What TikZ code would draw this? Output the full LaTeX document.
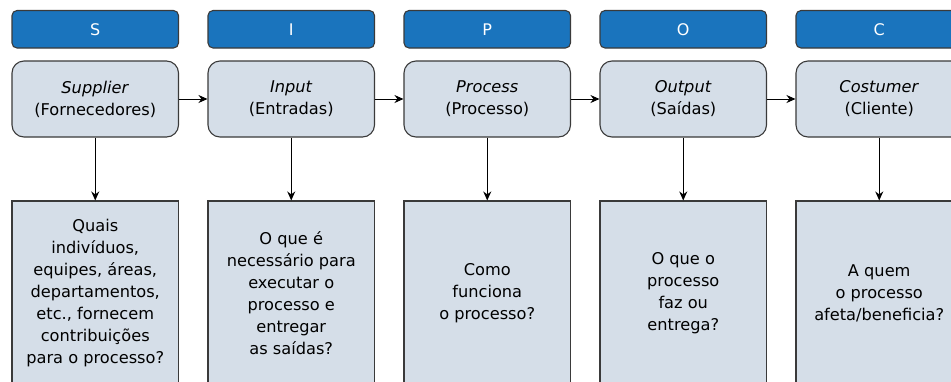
\documentclass[tikz,border=0pt]{standalone}
\usepackage{fontspec}
\setmainfont{DejaVu Sans}
\usetikzlibrary{arrows.meta}
\definecolor{hdrblue}{HTML}{1A74BD}
\definecolor{boxfill}{HTML}{D5DEE8}
\definecolor{boxline}{HTML}{3A3A3A}
\tikzset{
  hdr/.style={draw=boxline, line width=1.1pt, fill=hdrblue, rounded corners=5pt,
    minimum width=166.5pt, minimum height=37.5pt, inner sep=0pt, text=white,
    font=\fontsize{16}{20}\selectfont},
  midbox/.style={draw=boxline, line width=1.1pt, fill=boxfill, rounded corners=12pt,
    minimum width=166.5pt, minimum height=76pt, inner sep=0pt, align=center,
    font=\fontsize{16.2}{22}\selectfont},
  lowbox/.style={draw=boxline, line width=1.1pt, fill=boxfill,
    minimum width=166.5pt, minimum height=184pt, inner sep=0pt, align=center,
    font=\fontsize{16.2}{22}\selectfont},
  conn/.style={line width=1pt, -{Stealth[length=9pt,width=8pt]}}
}
\begin{document}
\begin{tikzpicture}[x=1pt,y=-1pt]
\useasboundingbox (0,0) rectangle (951,381);
\clip (0,0) rectangle (951,381);
\fill[white] (0,0) rectangle (951,381);
% headers
\node[hdr] (hS) at (95.25,29.25) {S};
\node[hdr] (hI) at (291.25,29.25) {I};
\node[hdr] (hP) at (487.25,29.25) {P};
\node[hdr] (hO) at (683.25,29.25) {O};
\node[hdr] (hC) at (879.25,29.25) {C};
% middle boxes
\node[midbox] (mS) at (95.25,99) {\textit{Supplier}\\(Fornecedores)};
\node[midbox] (mI) at (291.25,99) {\textit{Input}\\(Entradas)};
\node[midbox] (mP) at (487.25,99) {\textit{Process}\\(Processo)};
\node[midbox] (mO) at (683.25,99) {\textit{Output}\\(Saídas)};
\node[midbox] (mC) at (879.25,99) {\textit{Costumer}\\(Cliente)};
% lower boxes
\node[lowbox] (lS) at (95.25,293) {Quais\\indivíduos,\\equipes, áreas,\\departamentos,\\etc., fornecem\\contribuições\\para o processo?};
\node[lowbox] (lI) at (291.25,293) {O que é\\necessário para\\executar o\\processo e\\entregar\\as saídas?};
\node[lowbox] (lP) at (487.25,293) {Como\\funciona\\o processo?};
\node[lowbox] (lO) at (683.25,293) {O que o\\processo\\faz ou\\entrega?};
\node[lowbox] (lC) at (879.25,293) {A quem\\o processo\\afeta/beneficia?};
% connectors
\draw[conn] (mS) -- (mI);
\draw[conn] (mI) -- (mP);
\draw[conn] (mP) -- (mO);
\draw[conn] (mO) -- (mC);
\draw[conn] (mS) -- (lS);
\draw[conn] (mI) -- (lI);
\draw[conn] (mP) -- (lP);
\draw[conn] (mO) -- (lO);
\draw[conn] (mC) -- (lC);
\end{tikzpicture}
\end{document}
